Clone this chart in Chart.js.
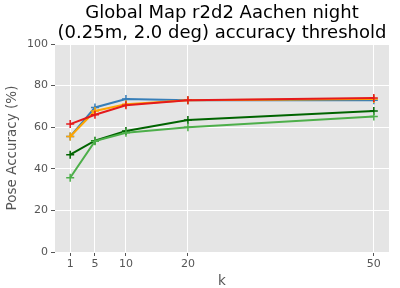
<!DOCTYPE html>
<html>
<head>
<meta charset="utf-8">
<script src="https://cdn.jsdelivr.net/npm/chart.js@4/dist/chart.umd.min.js"></script>
<style>
  html, body { margin: 0; padding: 0; background: #fff; }
  #wrap { width: 400px; height: 288px; }
</style>
</head>
<body>
<div id="wrap"><canvas id="chart" width="400" height="288"></canvas></div>
<script>
// k values on the x axis
var kValues = [1, 5, 10, 20, 50];
var xTicks = [1, 5, 10, 20, 50];
var yTicks = [0, 20, 40, 60, 80, 100];

// pose accuracy (%) per series
var blueSeries = [55.5, 69.5, 73.5, 73.0, 73.0];
var orangeSeries = [55.5, 67.8, 71.0, 73.0, 73.5];
var redSeries = [61.5, 66.0, 70.5, 73.0, 74.0];
var darkGreenSeries = [46.8, 53.5, 58.2, 63.5, 67.8];
var lightGreenSeries = [35.7, 53.3, 57.3, 60.0, 65.2];

var titleLines = ['Global Map r2d2 Aachen night', '(0.25m, 2.0 deg) accuracy threshold'];
var FONT = '"DejaVu Sans", sans-serif';

function pts(ys) {
    return kValues.map(function(k, i) { return { x: k, y: ys[i] }; });
}

function serie(ys, color, order) {
    return {
        data: pts(ys),
        borderColor: color,
        backgroundColor: color,
        borderWidth: 2,
        pointStyle: 'cross',
        pointRadius: 4,
        pointBorderWidth: 1.5,
        pointHoverRadius: 4,
        tension: 0,
        fill: false,
        order: order
    };
}

var plotBg = {
    id: 'plotBg',
    beforeDraw: function(chart) {
        var a = chart.chartArea, ctx = chart.ctx;
        ctx.save();
        ctx.fillStyle = '#e5e5e5';
        ctx.fillRect(a.left, a.top, a.right - a.left, a.bottom - a.top);
        ctx.restore();
    }
};

new Chart(document.getElementById('chart'), {
    type: 'line',
    data: {
        datasets: [
            serie(blueSeries, '#377eb8', 5),
            serie(orangeSeries, '#ffa500', 4),
            serie(redSeries, '#e41a1c', 3),
            serie(darkGreenSeries, '#006400', 2),
            serie(lightGreenSeries, '#4daf4a', 1)
        ]
    },
    plugins: [plotBg],
    options: {
        responsive: false,
        animation: false,
        events: [],
        layout: { padding: { left: 0, right: 11, top: 0, bottom: 0 } },
        plugins: {
            legend: { display: false },
            tooltip: { enabled: false },
            title: {
                display: true,
                text: titleLines,
                fullSize: false,
                color: '#000',
                font: { family: FONT, size: 18, weight: 'normal', lineHeight: 1.1 },
                padding: { top: 3.5, bottom: 0.9 }
            }
        },
        scales: {
            x: {
                type: 'linear',
                min: -1.45,
                max: 52.45,
                afterBuildTicks: function(axis) {
                    axis.ticks = xTicks.map(function(v) { return { value: v }; });
                },
                afterFit: function(axis) { axis.height = 36; },
                grid: { color: '#ffffff', lineWidth: 1, tickColor: '#555555', tickLength: 4, drawTicks: true },
                border: { display: false },
                ticks: { color: '#555555', font: { family: FONT, size: 11 }, padding: 2, maxRotation: 0, autoSkip: false },
                title: { display: true, text: 'k', color: '#555555', font: { family: FONT, size: 13.5, lineHeight: 1.0 }, padding: { top: 0, bottom: 0 } }
            },
            y: {
                min: 0,
                max: 100,
                afterBuildTicks: function(axis) {
                    axis.ticks = yTicks.map(function(v) { return { value: v }; });
                },
                afterFit: function(axis) { axis.width = 55; },
                grid: { color: '#ffffff', lineWidth: 1, tickColor: '#555555', tickLength: 4, drawTicks: true },
                border: { display: false },
                ticks: { color: '#555555', font: { family: FONT, size: 11 }, padding: 3 },
                title: { display: true, text: 'Pose Accuracy (%)', color: '#555555', font: { family: FONT, size: 13.5, lineHeight: 1.0 }, padding: { top: 6, bottom: 0 } }
            }
        }
    }
});
</script>
</body>
</html>
